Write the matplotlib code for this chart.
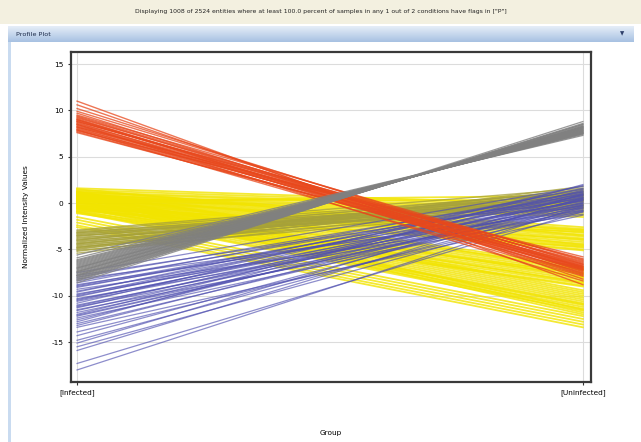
import matplotlib
matplotlib.use('Agg')
import matplotlib.pyplot as plt
import numpy as np
from matplotlib.patches import Rectangle
from matplotlib.colors import LinearSegmentedColormap

plt.rcParams['axes.unicode_minus'] = False

groups = ['[Infected]', '[Uninfected]']
y_ticks = [-15, -10, -5, 0, 5, 10, 15]

# each entity: value at Infected, value at Uninfected
yellow_infected = [1.6, 1.4, 1.2, 1.1, 0.9, 0.8, 0.6, 0.5, 0.3, 0.2,
                   1.3, 1.1, 1.0, 0.9, 0.8, 0.7, 0.6, 0.5, 0.4, 0.3, 0.2, 0.0, -0.2, -0.4, -0.6,
                   1.2, 1.0, 0.8, 0.6, 0.4, 0.2, 0.0, -0.2, -0.4, -0.6, -0.9, -1.1,
                   1.0, 0.9, 0.7, 0.5, 0.3, 0.1, -0.1, -0.3, -0.5, -0.7, -0.9, -1.0, 0.6, 0.2, -0.4,
                   -1.5, -1.8, -2.1, -2.4, -2.6,
                   1.5, 1.0, 0.4, -0.3, -0.8, 1.2, 0.7, 0.1, -0.5, 0.9]
yellow_uninfected = [-0.2, -0.4, -0.6, -0.8, -1.0, -1.2, -1.3, -1.5, 0.3, 0.8,
                     -2.6, -2.8, -3.0, -3.2, -3.4, -3.6, -3.8, -4.0, -4.2, -4.4, -4.6, -4.8, -5.0, -5.1, -3.1,
                     -6.9, -7.1, -7.3, -7.5, -7.7, -7.9, -8.1, -8.3, -8.5, -8.7, -8.9, -9.0,
                     -9.4, -9.6, -9.8, -10.0, -10.2, -10.4, -10.6, -10.8, -11.0, -11.2, -11.4, -11.6, -11.8, -12.0, -10.9,
                     -12.2, -12.5, -12.8, -13.1, -13.4,
                     -3.5, -4.5, -2.9, -3.9, -4.7, -7.2, -8.0, -8.6, -7.6, -11.5]

olive_infected = [-2.9, -3.0, -3.1, -3.2, -3.3, -3.4, -3.5, -3.6, -3.7, -3.8,
                  -3.9, -4.0, -4.1, -4.2, -4.3, -4.4, -4.5, -4.6, -4.7, -4.8,
                  -4.9, -5.0, -5.1, -5.2, -5.4, -3.5, -4.0, -4.4, -3.2, -4.8]
olive_uninfected = [1.6, 1.2, 0.4, 1.0, -0.2, 0.8, 0.1, 1.4, -0.5, 0.6,
                    0.3, 1.1, -0.1, 0.9, 0.2, 1.5, 0.0, 0.7, -0.3, 1.3,
                    0.5, 1.8, -0.4, 0.9, 0.4, -0.6, 1.2, 0.6, 0.2, 1.0]

blue_infected = [-7.5, -7.8, -8.0, -8.2, -8.4, -8.6, -8.8, -9.0, -9.1, -9.3,
                 -9.5, -9.6, -9.8, -10.0, -10.1, -10.3, -10.5, -10.6, -10.8, -11.0,
                 -11.1, -11.3, -11.5, -11.6, -11.8, -12.0, -12.2, -12.4, -12.6, -12.8,
                 -13.0, -13.2, -13.4, -9.9, -10.4, -11.2, -8.9, -12.1,
                 -13.9, -14.3, -14.8, -15.1, -15.5, -15.9, -17.3, -18.0]
blue_uninfected = [1.8, 0.5, 1.2, -0.8, 0.9, 1.5, -0.3, 0.2, 1.0, -1.2,
                   0.6, 1.6, -0.5, 0.3, 1.3, -0.9, 0.8, 0.0, 1.9, -0.2,
                   0.4, 1.1, -1.0, 0.7, -0.4, 1.4, 0.1, -0.7, 0.9, 2.0,
                   -0.1, 0.5, -1.3, 1.2, 0.3, -0.6, 0.8, 0.0,
                   -0.8, 0.4, -0.2, 1.0, -0.5, 0.6, -0.9, -0.3]

red_infected = [11.0, 10.6, 10.2, 9.9, 9.7, 9.5, 9.4, 9.3, 9.2, 9.1,
                9.0, 8.9, 8.8, 8.7, 8.6, 8.5, 8.4, 8.3, 8.2, 8.1,
                8.0, 7.9, 7.8, 7.7, 7.6, 8.5, 8.8, 9.0, 8.2, 7.9]
red_uninfected = [-8.8, -8.2, -7.0, -6.6, -7.4, -6.2, -6.8, -7.1, -6.5, -7.6,
                  -6.9, -7.2, -6.4, -7.8, -6.7, -7.0, -7.3, -6.3, -6.0, -7.5,
                  -6.6, -7.9, -5.8, -7.1, -6.8, -8.4, -6.1, -7.7, -6.9, -7.2]

gray_infected = [-5.6, -5.9, -6.1, -6.3, -6.4, -6.6, -6.7, -6.8, -6.9, -7.0,
                 -7.1, -7.2, -7.3, -7.4, -7.5, -7.6, -7.7, -7.8, -7.9, -8.0,
                 -8.1, -8.2, -8.4, -8.6, -7.0, -7.4, -6.5, -7.8, -8.3, -6.2]
gray_uninfected = [7.3, 7.4, 7.5, 7.5, 7.6, 7.6, 7.7, 7.7, 7.8, 7.8,
                   7.9, 7.9, 8.0, 8.0, 8.1, 8.1, 8.2, 8.2, 8.3, 8.3,
                   8.4, 8.5, 8.6, 8.8, 7.8, 8.0, 7.6, 8.2, 8.5, 7.5]

fig = plt.figure(figsize=(6.41, 4.42), dpi=100)
fig.patch.set_facecolor('white')
H = 442.0
W = 641.0

# header strip and the window title bar
fig.patches.append(Rectangle((0, 1 - 24 / H), 1, 24 / H, transform=fig.transFigure,
                             facecolor='#f3f0e0', edgecolor='none'))
fig.text(0.5, 1 - 12 / H,
         'Displaying 1008 of 2524 entities where at least 100.0 percent of samples in any 1 out of 2 conditions have flags in ["P"]',
         ha='center', va='center', fontsize=4.4, color='#222222')

bar = fig.add_axes([8 / W, 1 - 42 / H, 626 / W, 16 / H])
grad = np.linspace(0, 1, 50).reshape(-1, 1)
bar.imshow(grad, aspect='auto', cmap=LinearSegmentedColormap.from_list('bar', ['#e6eef8', '#a7c1e2']))
bar.set_axis_off()
fig.text(16 / W, 1 - 34 / H, 'Profile Plot', ha='left', va='center', fontsize=4.6, color='#1c2a48')
fig.text(622 / W, 1 - 34 / H, '\u25BC', ha='center', va='center', fontsize=4, color='#2e3f6a')

# panel border on the left
fig.patches.append(Rectangle((8 / W, 0), 3 / W, 1 - 42 / H, transform=fig.transFigure,
                             facecolor='#c9dbf0', edgecolor='none'))

ax = fig.add_axes([71 / W, 1 - 382 / H, 520 / W, 330 / H])
x = [0, 1]

def draw_group(starts, ends, color, alpha, lw, z):
    for s, e in zip(starts, ends):
        ax.plot(x, [s, e], color=color, lw=lw, alpha=alpha, zorder=z)

draw_group(yellow_infected, yellow_uninfected, '#f2e400', 0.8, 1.3, 2)
draw_group(olive_infected, olive_uninfected, '#a6a13a', 0.75, 1.0, 3)
draw_group(blue_infected, blue_uninfected, '#5050b0', 0.65, 0.9, 4)
draw_group(red_infected, red_uninfected, '#e8481c', 0.75, 1.0, 5)
draw_group(gray_infected, gray_uninfected, '#808080', 0.8, 0.9, 6)

ax.set_xlim(-0.012, 1.016)
ax.set_ylim(-19.3, 16.3)
ax.set_yticks(y_ticks)
ax.set_yticklabels([str(v) for v in y_ticks], fontsize=5.3)
ax.set_xticks(x)
ax.set_xticklabels(groups, fontsize=5.3)
ax.tick_params(axis='both', length=2.5, width=0.8, color='#333333', pad=3)
ax.grid(True, color='#dcdcdc', lw=0.8, zorder=0)
ax.set_axisbelow(True)
for sp in ax.spines.values():
    sp.set_color('#3a3a3a')
    sp.set_linewidth(1.6)

ax.set_xlabel('Group', fontsize=5.3, labelpad=24)
ax.set_ylabel('Normalized Intensity Values', fontsize=5.3, labelpad=16)

fig.savefig('out.png', dpi=100)
